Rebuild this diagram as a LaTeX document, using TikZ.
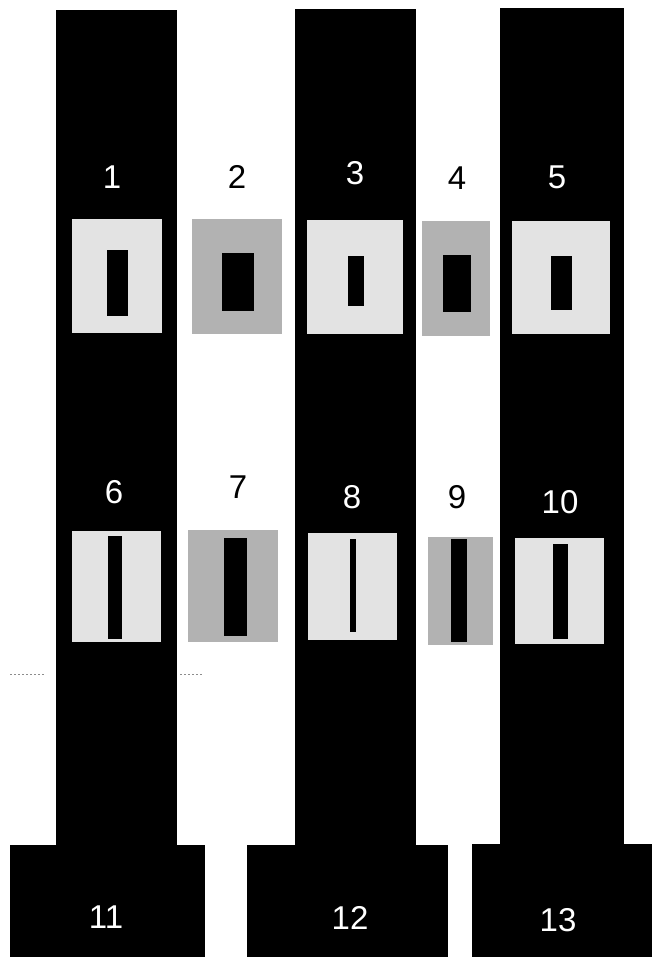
\documentclass[tikz,border=0pt]{standalone}
\usepackage{fontspec}
\setmainfont{Liberation Sans}
\usetikzlibrary{fit}
\tikzset{
  x=1pt, y=-1pt,
  column/.style={fill=black, draw=none},
  lightbox/.style={fill=black!11, draw=none, inner sep=0pt},
  darkbox/.style={fill=black!30, draw=none, inner sep=0pt},
  slot/.style={fill=black, draw=none, inner sep=0pt},
  wlabel/.style={text=white, font=\fontsize{33}{33}\selectfont, inner sep=0pt},
  blabel/.style={text=black, font=\fontsize{33}{33}\selectfont, inner sep=0pt},
  speck/.style={draw=black!45, line width=0.8pt, dash pattern=on 1.5pt off 2.5pt}
}
\begin{document}
\begin{tikzpicture}
\useasboundingbox (0,0) rectangle (652,957);
\fill[white] (0,0) rectangle (652,957);
% columns
\node[column, fit={(56,10) (177,850)}, inner sep=0pt] (c1) {};
\node[column, fit={(295,9) (416,850)}, inner sep=0pt] (c2) {};
\node[column, fit={(500,8) (624,850)}, inner sep=0pt] (c3) {};
% bases
\node[column, fit={(10,845) (205,957)}, inner sep=0pt] (base11) {};
\node[column, fit={(247,845) (448,957)}, inner sep=0pt] (base12) {};
\node[column, fit={(472,844) (652,957)}, inner sep=0pt] (base13) {};
% top row boxes
\node[lightbox, fit={(72,219) (162,333)}] (b1) {};
\node[slot, fit={(107,250) (128,316)}] (s1) {};
\node[darkbox, fit={(192,219) (282,334)}] (b2) {};
\node[slot, fit={(222,253) (254,311)}] (s2) {};
\node[lightbox, fit={(307,220) (403,334)}] (b3) {};
\node[slot, fit={(348,256) (364,306)}] (s3) {};
\node[darkbox, fit={(422,221) (490,336)}] (b4) {};
\node[slot, fit={(443,255) (471,312)}] (s4) {};
\node[lightbox, fit={(512,221) (610,334)}] (b5) {};
\node[slot, fit={(551,256) (572,310)}] (s5) {};
% bottom row boxes
\node[lightbox, fit={(72,531) (161,642)}] (b6) {};
\node[slot, fit={(108,536) (122,639)}] (s6) {};
\node[darkbox, fit={(188,530) (278,642)}] (b7) {};
\node[slot, fit={(224,538) (247,636)}] (s7) {};
\node[lightbox, fit={(308,533) (397,640)}] (b8) {};
\node[slot, fit={(350,539) (356,632)}] (s8) {};
\node[darkbox, fit={(428,537) (493,645)}] (b9) {};
\node[slot, fit={(451,539) (467,642)}] (s9) {};
\node[lightbox, fit={(515,538) (604,644)}] (b10) {};
\node[slot, fit={(553,544) (568,639)}] (s10) {};
% labels
\node[wlabel] (l1) at (112,177) {1};
\node[blabel] (l2) at (237,177) {2};
\node[wlabel] (l3) at (355,173) {3};
\node[blabel] (l4) at (457,178) {4};
\node[wlabel] (l5) at (557,177) {5};
\node[wlabel] (l6) at (114,492) {6};
\node[blabel] (l7) at (238,487) {7};
\node[wlabel] (l8) at (352,497) {8};
\node[blabel] (l9) at (457,497) {9};
\node[wlabel] (l10) at (560,502) {10};
\node[wlabel] (l11) at (106,917) {11};
\node[wlabel] (l12) at (350,918) {12};
\node[wlabel] (l13) at (558,920) {13};
% scan specks
\coordinate (d1a) at (10,674); \coordinate (d1b) at (44,674);
\coordinate (d2a) at (180,674); \coordinate (d2b) at (203,674);
\draw[speck] (d1a) -- (d1b);
\draw[speck] (d2a) -- (d2b);
\end{tikzpicture}
\end{document}
